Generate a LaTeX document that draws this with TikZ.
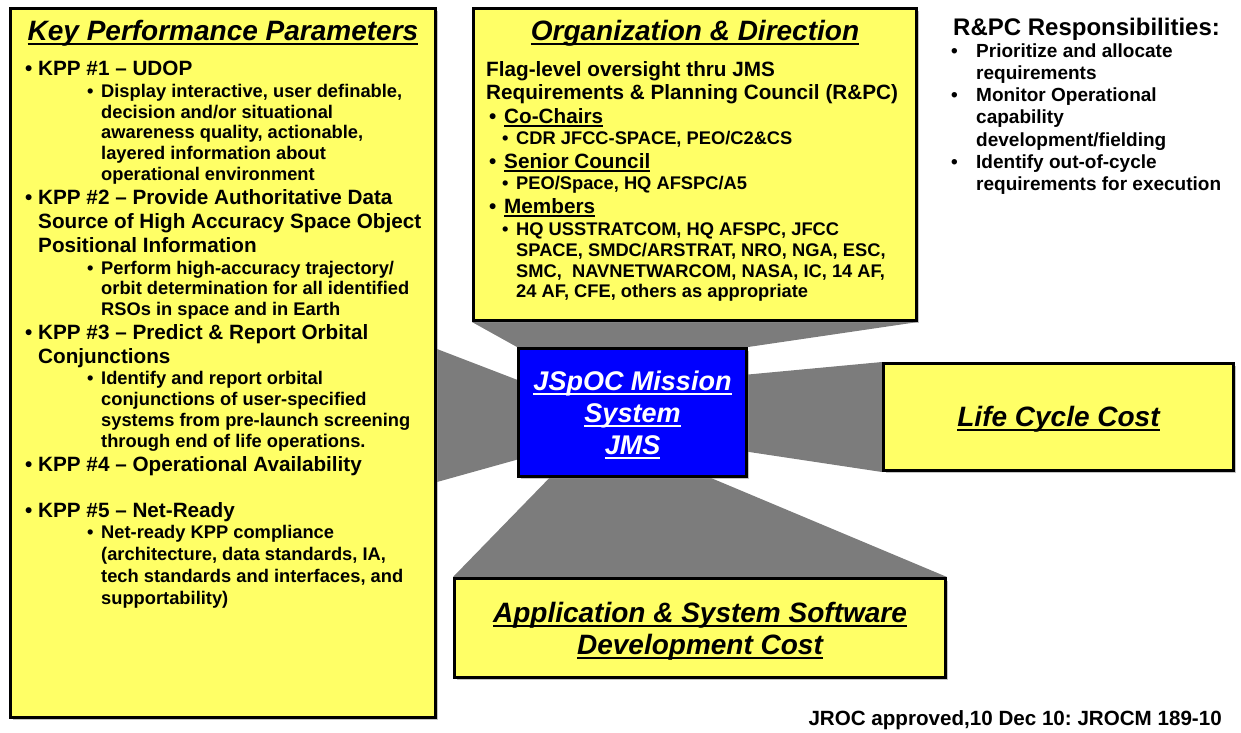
\documentclass[tikz,border=0pt]{standalone}
\usepackage{fontspec}
\setmainfont{Liberation Sans}
\frenchspacing
\usetikzlibrary{backgrounds,calc,positioning,shadows}
\definecolor{kppyellow}{HTML}{FFFF66}
\definecolor{jmsblue}{HTML}{0000FF}
\definecolor{funnelgray}{HTML}{7C7C7C}
\newcommand{\undl}[2][4.5pt]{\setbox0\hbox{#2}\rlap{\vrule width\wd0 height\dimexpr2pt-#1\relax depth#1}\box0}
\newcommand{\kb}[1][13pt]{\strut\makebox[#1][l]{\textbullet}}
\newcommand{\kc}[1][13pt]{\strut\hspace*{#1}}
\tikzset{%
	panel/.style     = {draw, line width=3pt, fill=kppyellow, inner sep=0pt, align=center, drop shadow={shadow xshift=2pt, shadow yshift=-2pt, fill=black!45}},
	boxtitle/.style  = {inner sep=0pt, anchor=base, font=\fontsize{28}{32}\selectfont\bfseries\itshape},
	kppline/.style   = {inner sep=0pt, anchor=north west, align=left, font=\fontsize{20.7}{#1}\selectfont\bfseries},
	kppline/.default = 24,
	subline/.style   = {inner sep=0pt, anchor=north west, align=left, font=\fontsize{18.3}{#1}\selectfont\bfseries},
	subline/.default = 21,
	funnel/.style    = {fill=funnelgray},
}
\begin{document}
\begin{tikzpicture}[x=1pt,y=-1pt]
	\useasboundingbox (0,0) rectangle (1241,732);
	% boxes
	\node[panel, minimum width=425, minimum height=709] (kpp) at (223,363) {};
	\node[panel, minimum width=443, minimum height=312] (org) at (695,164.5) {};
	\node[panel, fill=jmsblue, drop shadow={opacity=0}, minimum width=228, minimum height=128, text=white, font=\fontsize{27}{32}\selectfont\bfseries\itshape] (jms) at (632.5,412.5) {\rule{0pt}{24pt}\undl{JSpOC Mission}\\\undl{System}\\\undl{JMS}};
	\node[panel, minimum width=350, minimum height=107, text height=19pt, text depth=0pt, font=\fontsize{28}{32}\selectfont\bfseries\itshape] (life) at (1058.5,417) {\undl{Life Cycle Cost}};
	\node[panel, minimum width=491, minimum height=99, font=\fontsize{28}{32}\selectfont\bfseries\itshape] (app) at (700,628) {\rule{0pt}{26.5pt}\undl{Application \& System Software}\\\undl{Development Cost}};
	% funnels
	\begin{scope}[on background layer]
		\fill[funnel] (org.south west) -- (org.south east) -- (jms.north east) -- (jms.north west) -- cycle;
		\fill[funnel] ($(kpp.east |- jms.north)+(0,2)$) -- ($(jms.north west)!0.25!(jms.south west)$) -- ($(jms.north west)!0.86!(jms.south west)$) -- ($(kpp.east |- jms.south)+(0,4)$) -- cycle;
		\fill[funnel] ($(jms.north east)!0.21!(jms.south east)$) -- (life.north west) -- (life.south west) -- ($(jms.north east)!0.8!(jms.south east)$) -- cycle;
		\fill[funnel] ($(jms.south west)!0.14!(jms.south east)$) -- ($(jms.south west)!0.84!(jms.south east)$) -- (app.north east) -- (app.north west) -- cycle;
	\end{scope}
	% key performance parameters
	\node[boxtitle] (kpptitle) at (223,40) {\undl{Key Performance Parameters}};
	\node[kppline] (kpp1) at (25,58.2) {\kb KPP \#1 -- UDOP};
	\node[subline=20.7] (kpp1sub) at (87,82.8) {\kb[14pt]Display interactive, user definable,\\\kc[14pt]decision and/or situational\\\kc[14pt]awareness quality, actionable,\\\kc[14pt]layered information about\\\kc[14pt]operational environment};
	\node[kppline] (kpp2) at (25,187.2) {\kb KPP \#2 -- Provide Authoritative Data\\\kc Source of High Accuracy Space Object\\\kc Positional Information};
	\node[subline=20.5] (kpp2sub) at (87,259.6) {\kb[14pt]Perform high-accuracy trajectory/\\\kc[14pt]orbit determination for all identified\\\kc[14pt]RSOs in space and in Earth};
	\node[kppline] (kpp3) at (25,322.2) {\kb KPP \#3 -- Predict \& Report Orbital\\\kc Conjunctions};
	\node[subline=21.1] (kpp3sub) at (87,369.5) {\kb[14pt]Identify and report orbital\\\kc[14pt]conjunctions of user-specified\\\kc[14pt]systems from pre-launch screening\\\kc[14pt]through end of life operations.};
	\node[kppline] (kpp4) at (25,454.9) {\kb KPP \#4 -- Operational Availability};
	\node[kppline] (kpp5) at (25,500.5) {\kb KPP \#5 -- Net-Ready};
	\node[subline=21.9] (kpp5sub) at (87,523) {\kb[14pt]Net-ready KPP compliance\\\kc[14pt](architecture, data standards, IA,\\\kc[14pt]tech standards and interfaces, and\\\kc[14pt]supportability)};
	% organization and direction
	\node[boxtitle] (orgtitle) at (695,40) {\undl{Organization \& Direction}};
	\node[kppline=23.3] (flag) at (486,59.7) {\strut Flag-level oversight thru JMS\\\strut Requirements \& Planning Council (R\&PC)};
	\node[kppline] (chairs) at (489,106.5) {\kb[15pt]\undl[3.5pt]{Co-Chairs}};
	\node[subline] (chairsub) at (502,129.3) {\kb[14pt]CDR JFCC-SPACE, PEO/C2\&CS};
	\node[kppline] (senior) at (489,151.5) {\kb[15pt]\undl[3.5pt]{Senior Council}};
	\node[subline] (seniorsub) at (502,174.6) {\kb[14pt]PEO/Space, HQ AFSPC/A5};
	\node[kppline] (members) at (489,196.5) {\kb[15pt]\undl[3.5pt]{Members}};
	\node[subline=20.9] (membersub) at (502,220.4) {\kb[14pt]HQ USSTRATCOM, HQ AFSPC, JFCC\\\kc[14pt]SPACE, SMDC/ARSTRAT, NRO, NGA, ESC,\\\kc[14pt]SMC,\ \ NAVNETWARCOM, NASA, IC, 14 AF,\\\kc[14pt]24 AF, CFE, others as appropriate};
	% responsibilities
	\node[anchor=base west, inner sep=0pt, font=\fontsize{24}{28}\selectfont\bfseries] (rpc) at (953,35) {R\&PC Responsibilities:};
	\node[anchor=north west, inner sep=0pt, align=left, font=\fontsize{19}{22.1}\selectfont\bfseries] (rpclist) at (951,42) {\kb[25pt]Prioritize and allocate\\\kc[25pt]requirements\\\kb[25pt]Monitor Operational\\\kc[25pt]capability\\\kc[25pt]development/fielding\\\kb[25pt]Identify out-of-cycle\\\kc[25pt]requirements for execution};
	\node[anchor=base east, inner sep=0pt, font=\fontsize{20.6}{24}\selectfont\bfseries] (jroc) at (1222,725) {JROC approved,10 Dec 10: JROCM 189-10};
\end{tikzpicture}
\end{document}
